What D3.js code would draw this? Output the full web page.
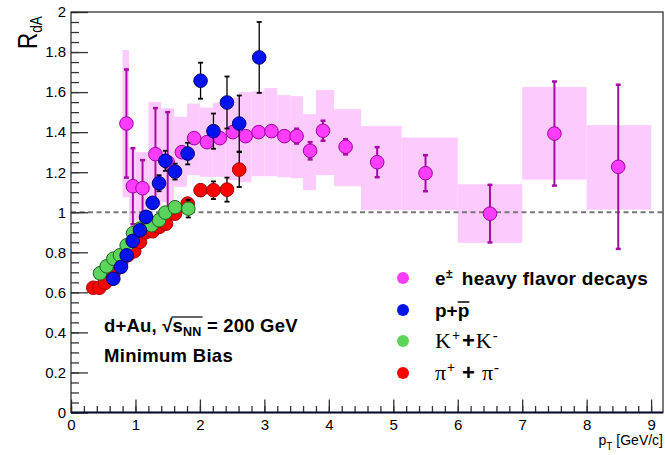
<!DOCTYPE html>
<html>
<head>
<meta charset="utf-8">
<script src="https://d3js.org/d3.v7.min.js"></script>
<style>
body { margin: 0; background: #fff; }
text { font-family: "Liberation Sans", Arial, sans-serif; }
</style>
</head>
<body>
<div id="chart"></div>
<script>
// size of the picture
var width = 665;
var height = 455;

// heavy flavor electrons (magenta) with systematic boxes
var hfX = [0.86, 0.96, 1.11, 1.31, 1.5, 1.72, 1.91, 2.11, 2.31, 2.51, 2.71, 2.91, 3.11, 3.31, 3.5, 3.71, 3.91, 4.26, 4.75, 5.5, 6.5, 7.5, 8.49];
var hfY = [1.443, 1.13, 1.12, 1.29, 1.25, 1.30, 1.37, 1.35, 1.37, 1.40, 1.38, 1.40, 1.405, 1.38, 1.38, 1.307, 1.407, 1.327, 1.25, 1.195, 0.993, 1.393, 1.227];
var hfErr = [0.27, 0.19, 0.14, 0.23, 0.25, 0.02, 0.02, 0.02, 0.02, 0.02, 0.02, 0.02, 0.02, 0.025, 0.037, 0.043, 0.05, 0.038, 0.075, 0.09, 0.144, 0.26, 0.41];
var sysLeft = [0.8, 0.9, 1.0, 1.2, 1.4, 1.6, 1.8, 2.0, 2.2, 2.4, 2.6, 2.8, 3.0, 3.2, 3.4, 3.6, 3.8, 4.08, 4.5, 5.13, 6.0, 7.0, 8.0];
var sysRight = [0.9, 1.0, 1.2, 1.4, 1.6, 1.8, 2.0, 2.2, 2.4, 2.6, 2.8, 3.0, 3.2, 3.4, 3.6, 3.8, 4.08, 4.5, 5.13, 6.0, 7.0, 8.0, 9.0];
var sysLo = [1.075, 0.95, 0.96, 1.03, 1.05, 1.127, 1.185, 1.177, 1.177, 1.16, 1.15, 1.18, 1.18, 1.175, 1.17, 1.11, 1.185, 1.13, 1.01, 1.01, 0.847, 1.163, 1.013];
var sysHi = [1.81, 1.32, 1.30, 1.55, 1.52, 1.477, 1.543, 1.523, 1.547, 1.573, 1.60, 1.605, 1.62, 1.585, 1.58, 1.49, 1.61, 1.515, 1.43, 1.373, 1.14, 1.625, 1.435];

// protons (blue)
var pX = [0.657, 0.776, 0.864, 0.957, 1.07, 1.164, 1.267, 1.366, 1.464, 1.614, 1.81, 2.01, 2.21, 2.42, 2.61, 2.92];
var pY = [0.668, 0.727, 0.785, 0.857, 0.91, 0.977, 1.047, 1.145, 1.257, 1.203, 1.293, 1.657, 1.405, 1.548, 1.443, 1.773];
var pErr = [0.01, 0.01, 0.01, 0.01, 0.015, 0.015, 0.02, 0.04, 0.05, 0.04, 0.054, 0.09, 0.088, 0.13, 0.14, 0.177];

// kaons (green)
var kX = [0.45, 0.553, 0.657, 0.76, 0.864, 0.962, 1.07, 1.17, 1.25, 1.366, 1.464, 1.614, 1.82];
var kY = [0.695, 0.73, 0.768, 0.785, 0.835, 0.895, 0.918, 0.968, 0.935, 0.96, 0.998, 1.025, 1.018];
var kErr = [0.01, 0.01, 0.01, 0.01, 0.01, 0.01, 0.01, 0.01, 0.01, 0.015, 0.015, 0.02, 0.044];

// pions (red)
var piX = [0.346, 0.44, 0.528, 0.657, 0.776, 0.88, 0.98, 1.07, 1.16, 1.267, 1.37, 1.474, 1.614, 1.81, 2.01, 2.21, 2.42, 2.61];
var piY = [0.623, 0.623, 0.647, 0.693, 0.743, 0.785, 0.805, 0.852, 0.90, 0.905, 0.927, 0.943, 0.993, 1.043, 1.11, 1.11, 1.113, 1.213];
var piErr = [0.01, 0.01, 0.01, 0.01, 0.01, 0.01, 0.01, 0.01, 0.01, 0.01, 0.01, 0.01, 0.015, 0.02, 0.028, 0.044, 0.06, 0.087];

// axis ticks
var xTickValues = [0, 1, 2, 3, 4, 5, 6, 7, 8, 9];
var yTickValues = [0, 0.2, 0.4, 0.6, 0.8, 1, 1.2, 1.4, 1.6, 1.8, 2];

// scales
var x = d3.scaleLinear().domain([0, 9.2]).range([71, 664]);
var y = d3.scaleLinear().domain([0, 2]).range([412.5, 12]);

var svg = d3.select("#chart")
	.append("svg")
	.attr("width", width)
	.attr("height", height);

// systematic boxes
svg.append("g").selectAll("rect")
	.data(hfX)
	.enter()
	.append("rect")
	.attr("x", function (d, i) { return x(sysLeft[i]) })
	.attr("width", function (d, i) { return x(sysRight[i]) - x(sysLeft[i]) })
	.attr("y", function (d, i) { return y(sysHi[i]) })
	.attr("height", function (d, i) { return y(sysLo[i]) - y(sysHi[i]) })
	.style("fill", "#fdcafd");

// dashed line at 1
svg.append("line")
	.attr("x1", x(0)).attr("x2", x(9.2))
	.attr("y1", y(1)).attr("y2", y(1))
	.style("stroke", "#777")
	.style("stroke-width", 2)
	.style("stroke-dasharray", "5,3.5");

// draws one data set: error bars then circles
function drawSeries(xs, ys, errs, fill, edge, barColor, barWidth) {
	let g = svg.append("g");
	xs.forEach(function (xv, i) {
		let cx = x(xv);
		let top = y(ys[i] + errs[i]);
		let bot = y(ys[i] - errs[i]);
		g.append("line")
			.attr("x1", cx).attr("x2", cx)
			.attr("y1", top).attr("y2", bot)
			.style("stroke", barColor).style("stroke-width", barWidth);
		[top, bot].forEach(function (yy) {
			g.append("line")
				.attr("x1", cx - 2.5).attr("x2", cx + 2.5)
				.attr("y1", yy).attr("y2", yy)
				.style("stroke", barColor).style("stroke-width", barWidth + 0.5);
		});
	});
	g.selectAll("circle")
		.data(xs)
		.enter()
		.append("circle")
		.attr("cx", function (d) { return x(d) })
		.attr("cy", function (d, i) { return y(ys[i]) })
		.attr("r", 6.8)
		.style("fill", fill)
		.style("stroke", edge)
		.style("stroke-width", 1);
}

drawSeries(hfX, hfY, hfErr, "#ff3cff", "#a000a0", "#a80aa8", 2);
drawSeries(piX, piY, piErr, "#ff0000", "#a00000", "#000", 1.3);
drawSeries(kX, kY, kErr, "#5ad45a", "#1f5f1f", "#000", 1.3);
drawSeries(pX, pY, pErr, "#0012f0", "#000070", "#000", 1.3);

// axes
var yAxis = d3.axisLeft(y).tickValues(yTickValues).tickSizeInner(-17).tickSizeOuter(0).tickPadding(5)
	.tickFormat(d3.format("~g"));
var yMinor = d3.axisLeft(y).tickValues(y.ticks(40)).tickSizeInner(-8).tickSizeOuter(0).tickFormat("");
var xAxis = d3.axisBottom(x).tickValues(xTickValues).tickSizeInner(-13).tickSizeOuter(0).tickPadding(7);
var xMinor = d3.axisBottom(x).tickValues(d3.range(0, 46).map(function (k) { return k / 5 })).tickSizeInner(-6.5).tickSizeOuter(0).tickFormat("");

svg.append("g").attr("transform", "translate(71,0)").call(yMinor);
svg.append("g").attr("class", "ylab").attr("transform", "translate(71,0)").call(yAxis);
svg.append("g").attr("transform", "translate(0,412.5)").call(xMinor);
svg.append("g").attr("class", "xlab").attr("transform", "translate(0,412.5)").call(xAxis);

svg.selectAll(".tick line").style("stroke", "#333").style("stroke-width", 1.3);
svg.selectAll(".domain").remove();
svg.selectAll(".ylab text, .xlab text")
	.style("font-size", "15px")
	.style("font-family", "'Liberation Sans', Arial, sans-serif")
	.style("fill", "#000");

// frame
svg.append("rect")
	.attr("x", 71).attr("y", 12)
	.attr("width", 663 - 71).attr("height", 412.5 - 12)
	.style("fill", "none")
	.style("stroke", "#222")
	.style("stroke-width", 1.2);
svg.append("line")
	.attr("x1", 71).attr("x2", 663)
	.attr("y1", 412.5).attr("y2", 412.5)
	.style("stroke", "#0a0a30").style("stroke-width", 2);

// axis titles
var yt = svg.append("text")
	.attr("transform", "translate(37,49) rotate(-90) scale(0.8,1)");
yt.append("tspan").style("font-size", "28px").text("R");
yt.append("tspan").style("font-size", "17px").attr("dy", 5).text("dA");

var xt = svg.append("text")
	.attr("x", 663).attr("y", 445)
	.attr("text-anchor", "end")
	.style("font-size", "14px");
xt.append("tspan").text("p");
xt.append("tspan").style("font-size", "10px").attr("dy", 5).text("T");
xt.append("tspan").attr("dy", -5).attr("dx", 4).text("[GeV/c]");

// collision system text
var sys = svg.append("text")
	.attr("x", 104).attr("y", 332)
	.style("font-size", "18.5px")
	.style("letter-spacing", "0.2px")
	.style("font-weight", "bold");
sys.append("tspan").text("d+Au, √");
sys.append("tspan").text("s");
sys.append("tspan").style("font-size", "12.5px").attr("dy", 4).text("NN");
sys.append("tspan").attr("dy", -4).text(" = 200 GeV");
var sNode = sys.node();
svg.append("line")
	.attr("x1", sNode.getStartPositionOfChar(7).x - 1)
	.attr("x2", sNode.getEndPositionOfChar(9).x + 1)
	.attr("y1", 332 - 15).attr("y2", 332 - 15)
	.style("stroke", "#000").style("stroke-width", 1.2);

svg.append("text")
	.attr("x", 104).attr("y", 362)
	.style("font-size", "18.5px")
	.style("letter-spacing", "0.3px")
	.style("font-weight", "bold")
	.text("Minimum Bias");

// legend
var legColors = ["#ff3cff", "#0012f0", "#5ad45a", "#ff0000"];
var legY = [278, 310, 341, 373];
svg.append("g").selectAll("circle")
	.data(legColors)
	.enter()
	.append("circle")
	.attr("cx", 403)
	.attr("cy", function (d, i) { return legY[i] })
	.attr("r", 6)
	.style("fill", function (d) { return d });

var l1 = svg.append("text").attr("x", 435).attr("y", legY[0] + 7)
	.style("font-size", "19px").style("letter-spacing", "0.3px").style("font-weight", "bold");
l1.append("tspan").text("e");
l1.append("tspan").style("font-size", "12px").attr("dy", -7).text("±");
l1.append("tspan").attr("dy", 7).attr("dx", 9).text("heavy flavor decays");

var l2 = svg.append("text").attr("x", 435).attr("y", legY[1] + 7)
	.style("font-size", "19px").style("font-weight", "bold");
l2.append("tspan").text("p+p");
var l2n = l2.node();
svg.append("line")
	.attr("x1", l2n.getStartPositionOfChar(2).x)
	.attr("x2", l2n.getEndPositionOfChar(2).x)
	.attr("y1", legY[1] - 8).attr("y2", legY[1] - 8)
	.style("stroke", "#000").style("stroke-width", 1.5);

var serif = "'Liberation Serif', 'Times New Roman', serif";
var l3 = svg.append("text").attr("x", 435).attr("y", legY[2] + 7)
	.style("font-size", "22px");
l3.append("tspan").style("font-family", serif).text("K");
l3.append("tspan").style("font-family", serif).style("font-size", "14px").style("font-weight", "bold").attr("dy", -8).attr("dx", 1).text("+");
l3.append("tspan").style("font-weight", "bold").attr("dy", 8).attr("dx", 2).text("+");
l3.append("tspan").style("font-family", serif).attr("dx", 1).text("K");
l3.append("tspan").style("font-family", serif).style("font-size", "15px").style("font-weight", "bold").attr("dy", -8).attr("dx", 1).text("-");

var l4 = svg.append("text").attr("x", 435).attr("y", legY[3] + 7)
	.style("font-size", "22px");
l4.append("tspan").style("font-family", serif).text("π");
l4.append("tspan").style("font-family", serif).style("font-size", "14px").style("font-weight", "bold").attr("dy", -8).attr("dx", 1).text("+");
l4.append("tspan").style("font-weight", "bold").attr("dy", 8).attr("dx", 7).text("+");
l4.append("tspan").style("font-family", serif).attr("dx", 7).text("π");
l4.append("tspan").style("font-family", serif).style("font-size", "15px").style("font-weight", "bold").attr("dy", -8).attr("dx", 1).text("-");
</script>
</body>
</html>
